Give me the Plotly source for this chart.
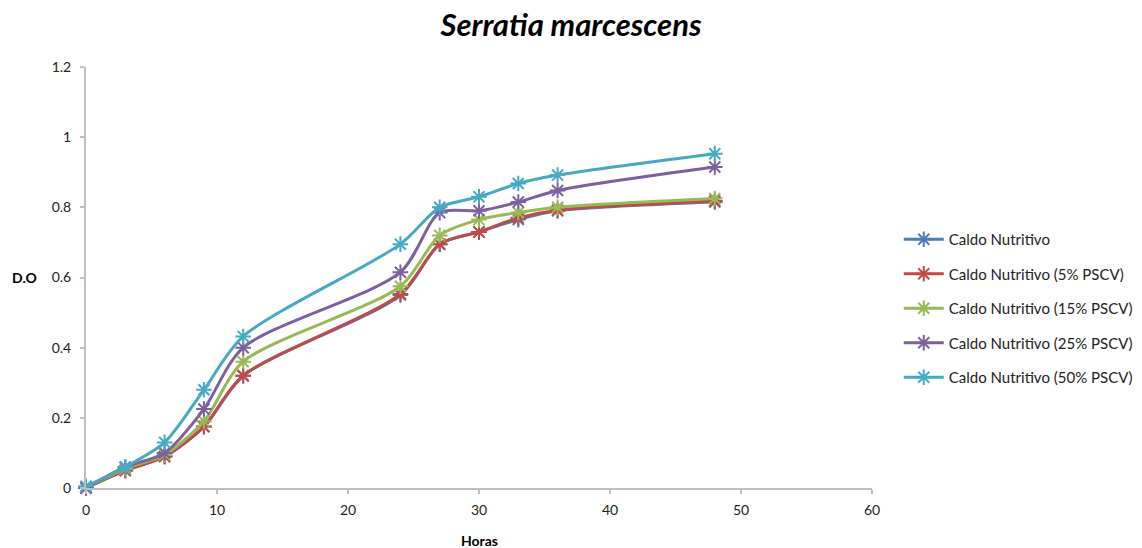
import plotly.graph_objects as go

horas = [0, 3, 6, 9, 12, 24, 27, 30, 33, 36, 48]

caldo = [0.0, 0.05, 0.09, 0.175, 0.32, 0.55, 0.695, 0.73, 0.765, 0.79, 0.815]
caldo_5 = [0.0, 0.05, 0.09, 0.175, 0.32, 0.553, 0.695, 0.73, 0.77, 0.792, 0.818]
caldo_15 = [0.0, 0.055, 0.095, 0.19, 0.36, 0.575, 0.72, 0.765, 0.785, 0.8, 0.825]
caldo_25 = [0.0, 0.06, 0.10, 0.225, 0.40, 0.615, 0.785, 0.79, 0.815, 0.848, 0.915]
caldo_50 = [0.005, 0.06, 0.13, 0.28, 0.432, 0.695, 0.80, 0.83, 0.868, 0.892, 0.953]

names = [
    "Caldo Nutritivo",
    "Caldo Nutritivo (5% PSCV)",
    "Caldo Nutritivo (15% PSCV)",
    "Caldo Nutritivo (25% PSCV)",
    "Caldo Nutritivo (50% PSCV)",
]
series = [caldo, caldo_5, caldo_15, caldo_25, caldo_50]
colors = ["#4a7ebb", "#be4b48", "#98b954", "#7d60a0", "#46aac5"]

FONT = "Lato"

fig = go.Figure()
for i, (n, s, c) in enumerate(zip(names, series, colors)):
    fig.add_trace(go.Scatter(
        x=horas, y=s, name=n, mode="lines+markers",
        line=dict(color=c, width=3, shape="spline", smoothing=0.8),
        marker=dict(symbol="asterisk-open", size=13, color=c,
                    line=dict(color=c, width=2)),
        cliponaxis=False,
        legendgroup=f"g{i}",
    ))

fig.update_layout(
    width=1142, height=548,
    margin=dict(l=86, r=270, t=67, b=60, autoexpand=False),
    paper_bgcolor="white", plot_bgcolor="white",
    font=dict(family=FONT, size=14, color="#222222"),
    title=dict(text="<b><i>Serratia marcescens</i></b>", x=0.5, xref="container",
               xanchor="center", y=0.955, yanchor="middle",
               font=dict(family=FONT, size=31, color="#000000")),
    showlegend=True,
    legend=dict(x=0.787, xref="container", xanchor="left",
                y=0.593, yref="container", yanchor="top",
                tracegroupgap=12, traceorder="grouped",
                font=dict(family=FONT, size=15, color="#222222"),
                itemwidth=40, bgcolor="rgba(0,0,0,0)"),
    xaxis=dict(range=[0, 60], tickvals=[0, 10, 20, 30, 40, 50, 60],
               showgrid=False, zeroline=False, showline=True,
               linecolor="#bfbfbf", linewidth=2, ticks="outside",
               ticklen=4, tickcolor="#bfbfbf", tickwidth=2,
               ticklabelstandoff=4,
               tickfont=dict(family=FONT, size=14, color="#222222")),
    yaxis=dict(range=[0, 1.2], tickvals=[0, 0.2, 0.4, 0.6, 0.8, 1, 1.2],
               ticktext=["0", "0.2", "0.4", "0.6", "0.8", "1", "1.2"],
               showgrid=False, zeroline=False, showline=True,
               linecolor="#bfbfbf", linewidth=2, ticks="outside",
               ticklen=4, tickcolor="#bfbfbf", tickwidth=2,
               ticklabelstandoff=6,
               tickfont=dict(family=FONT, size=14, color="#222222")),
    annotations=[
        dict(text="<b>Horas</b>", x=0.5, xref="paper", xanchor="center",
             y=-0.125, yref="paper", yanchor="middle", showarrow=False,
             font=dict(family=FONT, size=14, color="#000000")),
        dict(text="<b>D.O</b>", x=-0.078, xref="paper", xanchor="center",
             y=0.5, yref="paper", yanchor="middle", showarrow=False,
             font=dict(family=FONT, size=14, color="#000000")),
    ],
)

fig.write_html("out.html")
